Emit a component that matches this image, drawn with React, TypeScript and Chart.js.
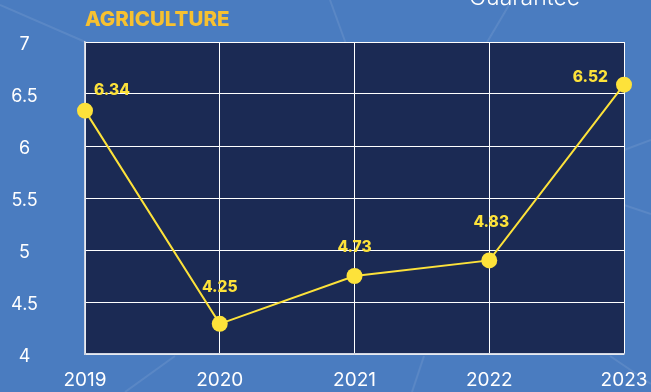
import React, { useEffect, useRef } from 'react';
import { Chart, registerables } from 'chart.js';

Chart.register(...registerables);

const years = ['2019', '2020', '2021', '2022', '2023'];
const agriculture = [6.34, 4.29, 4.75, 4.9, 6.59];
const valueLabels = ['6.34', '4.25', '4.73', '4.83', '6.52'];
const yMin = 4;
const yMax = 7;
const yStep = 0.5;
const chartTitle = 'AGRICULTURE';
const headerText = 'Guarantee';

const BG = '#4a7cc0';
const PLOT_BG = '#1b2a54';
const YELLOW = '#fde23a';
const TITLE_COLOR = '#f7c130';
const FONT = 'Inter, "Open Sans", sans-serif';

const decoPlugin = {
  id: 'deco',
  beforeDraw(chart: any) {
    const { ctx, width, height, chartArea: a } = chart;
    ctx.save();
    ctx.fillStyle = BG;
    ctx.fillRect(0, 0, width, height);
    ctx.strokeStyle = 'rgba(255,255,255,0.09)';
    ctx.lineWidth = 2;
    const segs = [
      [0, 5, 90, 44],
      [330, 0, 346, 44],
      [512, 0, 486, 44],
      [624, 150, 651, 140],
      [624, 205, 651, 214],
      [175, 356, 125, 392],
      [424, 356, 412, 392],
      [610, 356, 651, 384],
    ];
    segs.forEach(([x1, y1, x2, y2]) => {
      ctx.beginPath();
      ctx.moveTo(x1, y1);
      ctx.lineTo(x2, y2);
      ctx.stroke();
    });
    ctx.fillStyle = PLOT_BG;
    ctx.fillRect(a.left, a.top, a.right - a.left, a.bottom - a.top);
    ctx.restore();
  },
  afterDatasetsDraw(chart: any) {
    const { ctx } = chart;
    const meta = chart.getDatasetMeta(0);
    const offs: [number, number, CanvasTextAlign][] = [
      [9, -20, 'left'],
      [0, -36, 'center'],
      [0, -29, 'center'],
      [2, -38, 'center'],
      [-16, -7, 'right'],
    ];
    ctx.save();
    ctx.fillStyle = YELLOW;
    ctx.font = `800 15.5px ${FONT}`;
    ctx.textBaseline = 'middle';
    meta.data.forEach((pt: any, i: number) => {
      const o = offs[i] || [0, -32, 'center'];
      ctx.textAlign = o[2];
      ctx.fillText(valueLabels[i], pt.x + o[0], pt.y + o[1]);
    });
    ctx.restore();
  },
  afterDraw(chart: any) {
    const { ctx } = chart;
    ctx.save();
    ctx.fillStyle = TITLE_COLOR;
    ctx.font = `800 20.5px ${FONT}`;
    ctx.textAlign = 'left';
    ctx.textBaseline = 'middle';
    ctx.fillText(chartTitle, 85, 20);
    ctx.fillStyle = '#ffffff';
    ctx.font = `300 23px ${FONT}`;
    ctx.textBaseline = 'alphabetic';
    ctx.fillText(headerText, 469, 5);
    ctx.restore();
  },
};

export default function App() {
  const ref = useRef<HTMLCanvasElement>(null);
  useEffect(() => {
    if (!ref.current) return;
    const chart = new Chart(ref.current, {
      type: 'line',
      data: {
        labels: years,
        datasets: [
          {
            data: agriculture,
            borderColor: YELLOW,
            backgroundColor: YELLOW,
            borderWidth: 2,
            pointRadius: 8,
            pointBackgroundColor: YELLOW,
            pointBorderWidth: 0,
            tension: 0,
            clip: false as any,
          },
        ],
      },
      options: {
        animation: false,
        responsive: false,
        devicePixelRatio: 1,
        layout: { padding: { top: 42, right: 27, bottom: 0, left: 0 } },
        plugins: { legend: { display: false }, tooltip: { enabled: false } },
        scales: {
          x: {
            offset: false,
            grid: { color: '#ffffff', lineWidth: 1, drawTicks: false },
            border: { color: '#cfd5e2', width: 1.5 },
            ticks: { color: '#ffffff', font: { family: FONT, size: 19 }, padding: 15, maxRotation: 0 },
            afterFit: (s: any) => {
              s.height = 38;
              s.paddingLeft = 0;
              s.paddingRight = 0;
            },
          },
          y: {
            min: yMin,
            max: yMax,
            grid: { color: '#ffffff', lineWidth: 1, drawTicks: false },
            border: { color: '#cfd5e2', width: 1.5 },
            ticks: {
              stepSize: yStep,
              color: '#ffffff',
              font: { family: FONT, size: 18 },
              padding: 47,
              crossAlign: 'center',
              labelOffset: 3,
              callback: (v: any) => String(v),
            },
            afterFit: (s: any) => {
              s.width = 85;
              s.paddingTop = 0;
              s.paddingBottom = 0;
            },
          },
        },
      },
      plugins: [decoPlugin],
    });
    return () => chart.destroy();
  }, []);
  return (
    <div style={{ position: 'absolute', left: 0, top: 0, width: 651, height: 392 }}>
      <canvas ref={ref} width={651} height={392} />
    </div>
  );
}
